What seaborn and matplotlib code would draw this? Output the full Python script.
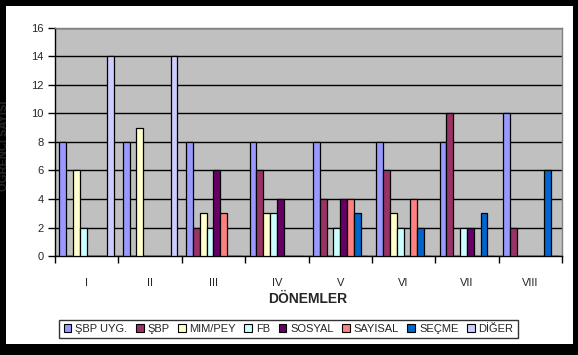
import pandas as pd
import matplotlib.pyplot as plt
import seaborn as sns
from matplotlib.patches import Rectangle

donemler = ['I', 'II', 'III', 'IV', 'V', 'VI', 'VII', 'VIII']
seriler = ['ŞBP UYG.', 'ŞBP', 'MIM/PEY', 'FB', 'SOSYAL', 'SAYISAL', 'SEÇME', 'DİĞER']
renkler = ['#9999FF', '#993366', '#FFFFCC', '#CCFFFF', '#660066', '#FF8080', '#0066CC', '#CCCCFF']

sbp_uyg = [8, 8, 8, 8, 8, 8, 8, 10]
sbp = [0, 0, 2, 6, 4, 6, 10, 2]
mim_pey = [6, 9, 3, 3, 0, 3, 0, 0]
fb = [2, 0, 2, 3, 2, 2, 2, 0]
sosyal = [0, 0, 6, 4, 4, 0, 2, 0]
sayisal = [0, 0, 3, 0, 4, 4, 0, 0]
secme = [0, 0, 0, 0, 3, 2, 3, 6]
diger = [14, 14, 0, 0, 0, 0, 0, 0]

degerler = [sbp_uyg, sbp, mim_pey, fb, sosyal, sayisal, secme, diger]
rows = []
for s, vals in zip(seriler, degerler):
    for d, v in zip(donemler, vals):
        rows.append({'donem': d, 'seri': s, 'sayi': v})
df = pd.DataFrame(rows)

sns.set_style('white')
plt.rcParams['font.family'] = ['Liberation Sans', 'DejaVu Sans']

W, H = 578, 355
fig = plt.figure(figsize=(W / 100, H / 100), dpi=100, facecolor='black')
fig.patches.append(Rectangle((6 / W, 11 / H), 567 / W, 338 / H, transform=fig.transFigure,
                             facecolor='white', edgecolor='none', zorder=-1))
ax = fig.add_axes([55 / W, (H - 256) / H, 507 / W, 228 / H])
ax.set_facecolor('#C0C0C0')

sns.barplot(data=df, x='donem', y='sayi', hue='seri', order=donemler, hue_order=seriler,
            palette=renkler, edgecolor='black', linewidth=0.9, width=0.86, saturation=1,
            errorbar=None, ax=ax, zorder=3)

ax.set_ylim(0, 16)
ax.set_xlim(-0.5, 7.5)
ax.set_yticks(range(0, 17, 2))
ax.yaxis.grid(True, color='black', linewidth=1, zorder=1)
ax.set_axisbelow(True)
ax.set_xticks(range(8))
ax.set_xticklabels(donemler)
ax.set_xticks([i - 0.5 for i in range(9)], minor=True)
ax.tick_params(axis='x', which='major', length=0, pad=16, labelsize=8)
ax.tick_params(axis='x', which='minor', length=5, width=1, color='black', direction='out', bottom=True)
ax.tick_params(axis='y', length=5, width=1, color='black', direction='out', left=True,
               labelsize=8, pad=3)
for side in ['left', 'bottom']:
    ax.spines[side].set_color('black')
    ax.spines[side].set_linewidth(1)
for side in ['top', 'right']:
    ax.spines[side].set_color('#808080')
    ax.spines[side].set_linewidth(1)
ax.set_xlabel('')
ax.set_ylabel('')

fig.text(308 / W, (H - 299) / H, 'DÖNEMLER', ha='center', va='center', fontsize=10, fontweight='bold')
fig.text(9 / W, (H - 146) / H, 'ÖĞRENCİ SAYISI', ha='right', va='center', rotation=90,
         fontsize=8, fontweight='bold')

handles, labels = ax.get_legend_handles_labels()
ax.get_legend().remove()
leg = fig.legend(handles, labels, loc='center', bbox_to_anchor=(288.5 / W, (H - 329) / H),
                 ncol=8, fontsize=8, frameon=True, fancybox=False, handlelength=0.7,
                 handleheight=0.7, handletextpad=0.35, columnspacing=0.75, borderpad=0.4,
                 borderaxespad=0)
leg.get_frame().set_edgecolor('black')
leg.get_frame().set_linewidth(1)
for h in leg.legend_handles:
    h.set_edgecolor('black')
    h.set_linewidth(0.8)

fig.savefig('out.png', dpi=100, facecolor='black')
